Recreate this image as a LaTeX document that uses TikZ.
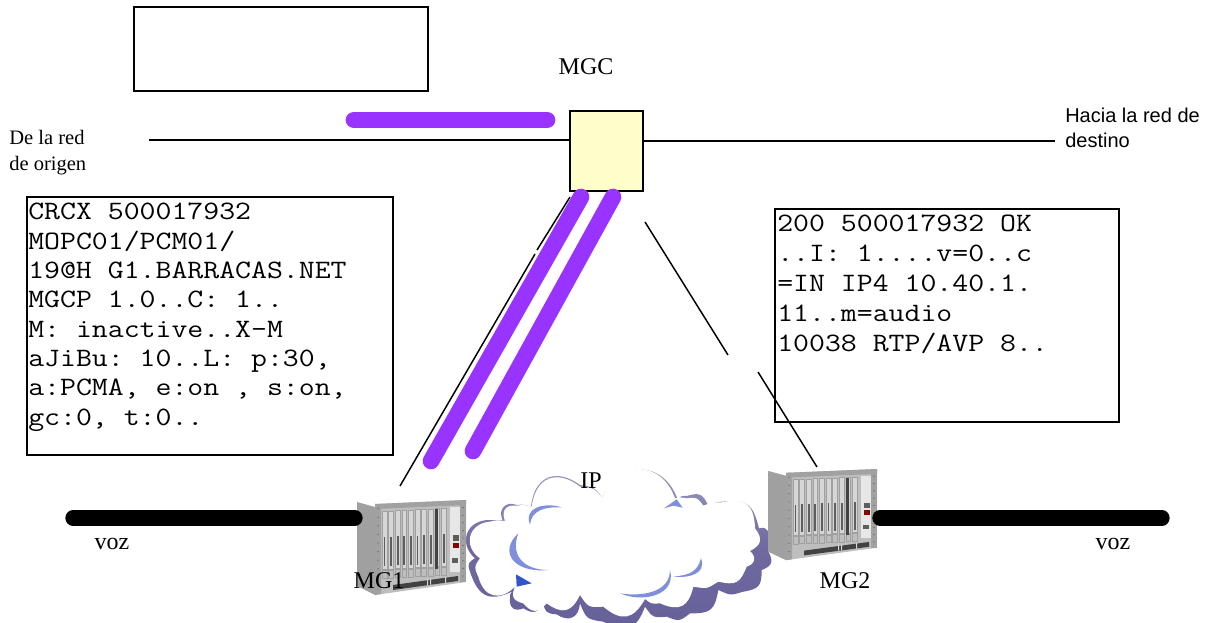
\documentclass[tikz,border=0pt]{standalone}
\usepackage{fontspec}
\setmainfont{Liberation Serif}
\setsansfont{Liberation Sans}
\setmonofont[FakeStretch=1.165]{Latin Modern Mono}
\definecolor{purp}{HTML}{9933FF}
\definecolor{cyel}{HTML}{FFFFCC}
\definecolor{cdark}{HTML}{666099}
\definecolor{cmid}{HTML}{A0A0C4}
\definecolor{cblue}{HTML}{7F8FDC}
\definecolor{cdeep}{HTML}{3355CC}
\definecolor{rackA}{HTML}{A0A0A0}
\definecolor{rackB}{HTML}{BEBEBE}
\definecolor{rackC}{HTML}{D6D6D6}
\definecolor{rackD}{HTML}{5E5E5E}
\tikzset{
 box/.style={draw=black,line width=1.1pt,fill=white,outer sep=0pt,inner sep=0pt,anchor=north west},
 wire/.style={draw=black,line width=1.1pt},
 pband/.style={draw=purp,line width=12.5pt,line cap=round},
 kband/.style={draw=black,line width=11.5pt,line cap=round},
 lbl/.style={inner sep=0pt,font=\fontsize{18}{20}\selectfont},
 mono/.style={inner sep=0pt,anchor=north west,align=left,font=\ttfamily\fontsize{19.9}{22}\selectfont},
 monob/.style={inner sep=0pt,anchor=north west,align=left,font=\ttfamily\fontsize{19.9}{22.5}\selectfont},
 sanslbl/.style={inner sep=0pt,anchor=north west,align=left,font=\sffamily\fontsize{15}{18.7}\selectfont},
 lobe/.style={bend left=#1,looseness=1.45},
 pics/rack/.style={code={
  \fill[rackA] (0,2) -- (18,7) -- (18,95) -- (0,86) -- cycle;
  \fill[rackB] (18,4) -- (109,0) -- (109,82) -- (18,95) -- cycle;
  \foreach \i in {0,...,9}{
    \pgfmathsetmacro{\xa}{25+\i*6.6}
    \pgfmathsetmacro{\ya}{11-\i*.3}
    \fill[rackC] (\xa,\ya) rectangle ++(4.8,58);
    \draw[rackA,line width=.3pt] (\xa,\ya) rectangle ++(4.8,58);
    \fill[rackD] (\xa+1.6,\ya+26) rectangle ++(1.8,29);
    \draw[rackA,line width=.3pt] (\xa,\ya+59) rectangle ++(4.8,8);
  }
  \fill[rackD!70!black] (78,9) rectangle (81,69);
  \fill[rackC!60!white] (93,7) rectangle (103,72);
  \fill[rackD] (96,35) rectangle ++(6,6);
  \fill[red!55!black] (96,43) rectangle ++(6,5);
  \fill[rackD] (95,58) rectangle ++(6,5);
  \fill[rackD!70!black] (36,85) -- (101,76) -- (101,81) -- (36,90) -- cycle;
  \fill[rackC] (70,79) rectangle ++(1.2,6) (73,78.5) rectangle ++(1.2,6) (88,77) rectangle ++(1.2,6);
  \fill[rackB!85!black] (18,4) -- (24,4) -- (24,94) -- (18,95) -- cycle;
  \fill[rackB!85!black] (103,1) rectangle (109,82);
  \fill[rackB!85!black] (18,4) -- (109,0) -- (109,5) -- (18,9) -- cycle;
  \foreach \j in {1,...,10}{
   \fill[rackD] (21,\j*8.6) circle (.7);
   \fill[rackD] (106,\j*7.6) circle (.7);
  }
 }}
}
\begin{document}
\begin{tikzpicture}[x=0.75pt,y=-0.75pt]
\useasboundingbox (0,0) rectangle (1214,623);
\clip (0,0) rectangle (1214,623);
% cloud, traced in 3x crop coordinates
\begin{scope}[shift={(460,465)},x=0.25pt,y=-0.25pt]
 \shade[top color=cmid,bottom color=cdark,middle color=cdark!85!cmid]
  (428,98) to[lobe=70] (655,110) to[lobe=40] (680,93) to[lobe=40] (745,122)
  to[lobe=10] (785,110) to[lobe=40] (897,190) to[lobe=30] (925,200)
  to[lobe=40] (925,260) to[lobe=50] (905,315) to[lobe=40] (850,380)
  to[lobe=20] (775,375) to[lobe=40] (690,445) to[lobe=30] (620,455)
  to[lobe=30] (555,425) to[lobe=50] (430,470) to[lobe=30] (360,415)
  to[lobe=60] (290,448) to[lobe=40] (250,410) to[lobe=50] (190,430)
  to[lobe=60] (150,400) to[lobe=30] (165,375) to[lobe=50] (30,320)
  to[lobe=40] (45,280) to[lobe=70] (90,165) to[lobe=0] (128,165)
  to[lobe=70] (170,120) to[lobe=10] (213,125) to[lobe=60] (360,60)
  to[lobe=20] (428,98) -- cycle;
 \fill[white]
  (428,98) to[lobe=70] (645,100) to[lobe=10] (680,100) to[lobe=30] (730,122)
  to[lobe=10] (785,112) to[lobe=50] (885,190) to[lobe=50] (870,258)
  to[lobe=60] (860,305) to[lobe=40] (775,350) to[lobe=20] (700,365)
  to[lobe=50] (600,415) to[lobe=20] (555,402) to[lobe=50] (430,425)
  to[lobe=30] (360,390) to[lobe=50] (260,415) to[lobe=50] (190,415)
  to[lobe=50] (165,365) to[lobe=60] (55,335) to[lobe=30] (60,280)
  to[lobe=70] (90,170) to[lobe=10] (135,168) to[lobe=60] (170,122)
  to[lobe=10] (215,125) to[lobe=60] (360,65) to[lobe=20] (428,98) -- cycle;
 \fill[cblue] (210,178) .. controls (190,130) and (250,110) .. (305,127) .. controls (255,125) and (215,135) .. cycle;
 \fill[cblue] (175,205) .. controls (115,260) and (160,325) .. (265,315) .. controls (190,315) and (150,270) .. cycle;
 \fill[cblue] (612,130) -- (650,103) -- (668,128) -- (640,122) -- cycle;
 \fill[cblue] (723,280) .. controls (740,325) and (690,340) .. (640,335) .. controls (690,330) and (712,320) .. cycle;
 \fill[cblue] (630,315) .. controls (650,390) and (550,415) .. (480,385) .. controls (540,395) and (630,385) .. cycle;
 \fill[cdeep] (168,328) -- (215,355) -- (170,365) -- cycle;
\end{scope}
\node[lbl] (ip) at (591,481) {IP};
% racks
\pic (rA) at (357,500) {rack};
\pic[yscale=.96] (rB) at (768,469) {rack};
\coordinate (rAtop) at (400,486);
\coordinate (rBtop) at (817,467);
\coordinate (rAw) at (355,518);
\coordinate (rBe) at (880,518);
\coordinate (vA) at (73,518);
\coordinate (vB) at (1162,518);
\node[lbl] (mg1) at (379,581) {MG1};
\node[lbl] (mg2) at (845,581) {MG2};
\node[lbl] (voz1) at (112,544) {voz};
\node[lbl] (voz2) at (1113,544) {voz};
\draw[kband] (vA) -- (rAw);
\draw[kband] (rBe) -- (vB);
% boxes
\node[box,minimum width=220.5pt,minimum height=63pt] (top) at (134,7) {};
\node[box,fill=cyel,minimum width=54.75pt,minimum height=60pt] (mgc) at (570,111) {};
\node[box,minimum width=274.5pt,minimum height=193.5pt] (left) at (27,197) {};
\node[box,minimum width=258pt,minimum height=159.75pt] (right) at (775,209) {};
\node[mono] (ltxt) at (28,203) {CRCX 500017932\\MOPC01/PCM01/\\19@H G1.BARRACAS.NET\\MGCP 1.0..C: 1..\\M: inactive..X-M\\aJiBu: 10..L: p:30,\\a:PCMA, e:on , s:on,\\gc:0, t:0..};
\node[monob] (rtxt) at (777,215) {200 500017932 OK\\..I: 1....v=0..c\\=IN IP4 10.40.1.\\11..m=audio\\10038 RTP/AVP 8..};
\node[lbl] (mgcl) at (586,67) {MGC};
\node[inner sep=0pt,anchor=north west,align=left,font=\fontsize{15.4}{19.5}\selectfont] (orig) at (9,130) {De la red\\de origen};
\node[sanslbl] (dest) at (1065,108) {Hacia la red de\\destino};
\coordinate (wl) at (149,140);
\coordinate (wr) at (1055,141);
\draw[wire] (wl) -- (mgc.west |- wl);
\draw[wire] (mgc.east |- wr) -- (wr);
% diagonals
\coordinate (d1a) at (570,197);
\coordinate (d1b) at (537,250);
\coordinate (d1c) at (535,254);
\coordinate (d2a) at (645,222);
\coordinate (d2b) at (728,355);
\coordinate (d2c) at (758,372);
\draw[wire] (d1a) -- (d1b);
\draw[wire] (d1c) -- (rAtop);
\draw[wire] (d2a) -- (d2b);
\draw[wire] (d2c) -- (rBtop);
% purple
\coordinate (p1a) at (354,120);
\coordinate (p1b) at (547,120);
\coordinate (p2a) at (581,197);
\coordinate (p2b) at (431,461);
\coordinate (p3a) at (613,197);
\coordinate (p3b) at (473,451);
\draw[pband] (p1a) -- (p1b);
\draw[pband] (p2a) -- (p2b);
\draw[pband] (p3a) -- (p3b);
\end{tikzpicture}
\end{document}
